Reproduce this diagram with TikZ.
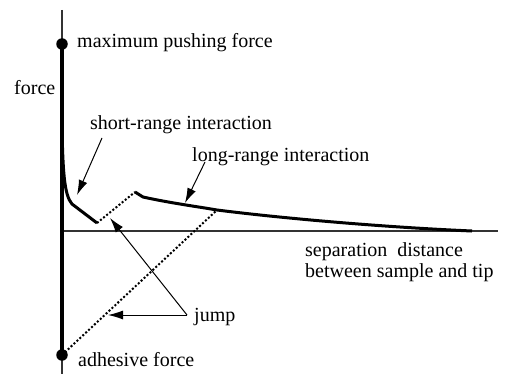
\documentclass[tikz,border=0pt]{standalone}
\usepackage{fontspec}
\setmainfont{Liberation Serif}
\usetikzlibrary{arrows.meta}
\begin{document}
\begin{tikzpicture}[x=1pt,y=-1pt,
  lbl/.style={inner sep=0pt,font=\fontsize{20}{21}\selectfont},
  curve/.style={line width=3pt,line join=round},
  jumpline/.style={line width=2pt,dotted},
  axis/.style={line width=1.3pt,draw=black!80},
  ptr/.style={line width=1pt,-{Latex[length=15pt,width=9pt]}},
  dot/.style={circle,fill=black,inner sep=0pt,minimum size=11.5pt}]
\useasboundingbox (0,0) rectangle (505,374);
% axes
\coordinate (ytop) at (62,10);
\coordinate (ybot) at (62,374);
\coordinate (xend) at (498,231);
\coordinate (orig) at (62,231);
\draw[axis] (ytop) -- (ybot);
\draw[axis] (orig) -- (xend);
\node[dot] (maxp) at (62,44) {};
\node[dot] (adh) at (62,355) {};
\draw[line width=3.5pt] (maxp.center) -- (adh.center);
% curves
\coordinate (s0) at (62,130);
\coordinate (s1) at (97,223);
\coordinate (l0) at (135,192);
\coordinate (lj) at (217,210);
\coordinate (lend) at (472,231);
\draw[curve] (s0) .. controls (63,170) and (64,195) .. (72,204) -- (s1);
\draw[curve] (l0) -- (143,197) .. controls (170,203) and (200,207) .. (lj)
  .. controls (280,218) and (380,227) .. (lend);
\draw[jumpline] (s1) -- (l0);
\draw[jumpline] (adh.center) -- (lj);
% labels
\node[lbl,anchor=west] (maxlbl) at (77,43) {maximum pushing force};
\node[lbl,anchor=west] (forcelbl) at (14,88) {force};
\node[lbl,anchor=west] (srlbl) at (90,125) {short-range interaction};
\node[lbl,anchor=west] (lrlbl) at (192,157) {long-range interaction};
\node[lbl,anchor=north west,align=left] (seplbl) at (305,242) {separation\ \ distance\\between sample and tip};
\node[lbl,anchor=west] (jumplbl) at (194,317) {jump};
\node[lbl,anchor=west] (adhlbl) at (78,360) {adhesive force};
% pointers
\coordinate (sra) at (102,138);
\coordinate (srt) at (77,195);
\coordinate (lra) at (205,162);
\coordinate (lrt) at (185,203);
\coordinate (jo) at (187,315);
\coordinate (jt1) at (110,218);
\coordinate (jt2) at (108,315);
\draw[ptr] (sra) -- (srt);
\draw[ptr] (lra) -- (lrt);
\draw[ptr] (jo) -- (jt1);
\draw[ptr] (jo) -- (jt2);
\end{tikzpicture}
\end{document}
